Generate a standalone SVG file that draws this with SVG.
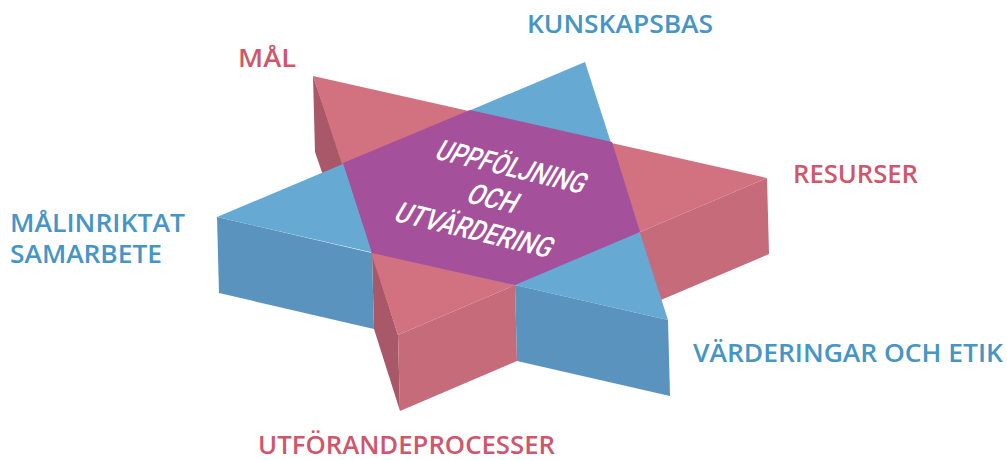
<svg xmlns="http://www.w3.org/2000/svg" width="1007" height="460" viewBox="0 0 1007 460">
<style>
.rtop{fill:#d2717f}
.rfront{fill:#c66b7a}
.rdark{fill:#a9586a}
.btop{fill:#66a9d3}
.bfront{fill:#5a93bd}
.mid{fill:#a4509a}
.lbl{font-family:"Open Sans","Noto Sans",sans-serif;font-size:25px;font-weight:600}
.red{fill:#d0566b}
.blue{fill:#4595c6}
.ctr{font-family:"Liberation Sans Narrow","Roboto","Liberation Sans",sans-serif;font-size:29px;fill:#ffffff;text-anchor:middle;font-weight:500}
</style>
<rect width="1007" height="460" fill="#ffffff"/>
<g id="red-prism">
<polygon class="rdark" points="343,163 313,76 315,152 345,239"/>
<polygon class="rfront" points="767,178 640,232 642,308 769,254"/>
<polygon class="rdark" points="398,335 372,253 374,329 400,411"/>
<polygon class="rfront" points="515,285 398,335 400,411 517,361"/>
<polygon class="rtop" points="313,76 767,178 398,335"/>
</g>
<g id="blue-prism">
<polygon class="bfront" points="668,320 515,285 517,361 670,396"/>
<polygon class="bfront" points="372,253 217,217 219,293 374,329"/>
<polygon class="btop" points="585,62 217,217 668,320"/>
</g>
<g id="center">
<polygon class="mid" points="470,110 612,142 640,232 515,285 372,253 343,163"/>
<g transform="translate(507,176) rotate(13.5) skewX(-17)">
<text class="ctr" x="0" y="0" textLength="152" lengthAdjust="spacingAndGlyphs">UPPFÖLJNING</text>
<text class="ctr" x="0" y="35" textLength="50" lengthAdjust="spacingAndGlyphs">OCH</text>
<text class="ctr" x="0" y="70" textLength="160" lengthAdjust="spacingAndGlyphs">UTVÄRDERING</text>
</g>
</g>
<g id="label-mal"><text class="lbl red" x="238" y="67" textLength="58" lengthAdjust="spacingAndGlyphs">MÅL</text></g>
<g id="label-kunskapsbas"><text class="lbl blue" x="527" y="33" textLength="186" lengthAdjust="spacingAndGlyphs">KUNSKAPSBAS</text></g>
<g id="label-resurser"><text class="lbl red" x="793" y="183" textLength="125" lengthAdjust="spacingAndGlyphs">RESURSER</text></g>
<g id="label-malinriktat">
<text class="lbl blue" x="10" y="232" textLength="175" lengthAdjust="spacingAndGlyphs">MÅLINRIKTAT</text>
<text class="lbl blue" x="10" y="263" textLength="152" lengthAdjust="spacingAndGlyphs">SAMARBETE</text>
</g>
<g id="label-varderingar"><text class="lbl blue" x="693" y="362" textLength="310" lengthAdjust="spacingAndGlyphs">VÄRDERINGAR OCH ETIK</text></g>
<g id="label-utforande"><text class="lbl red" x="258" y="454" textLength="297" lengthAdjust="spacingAndGlyphs">UTFÖRANDEPROCESSER</text></g>
</svg>
